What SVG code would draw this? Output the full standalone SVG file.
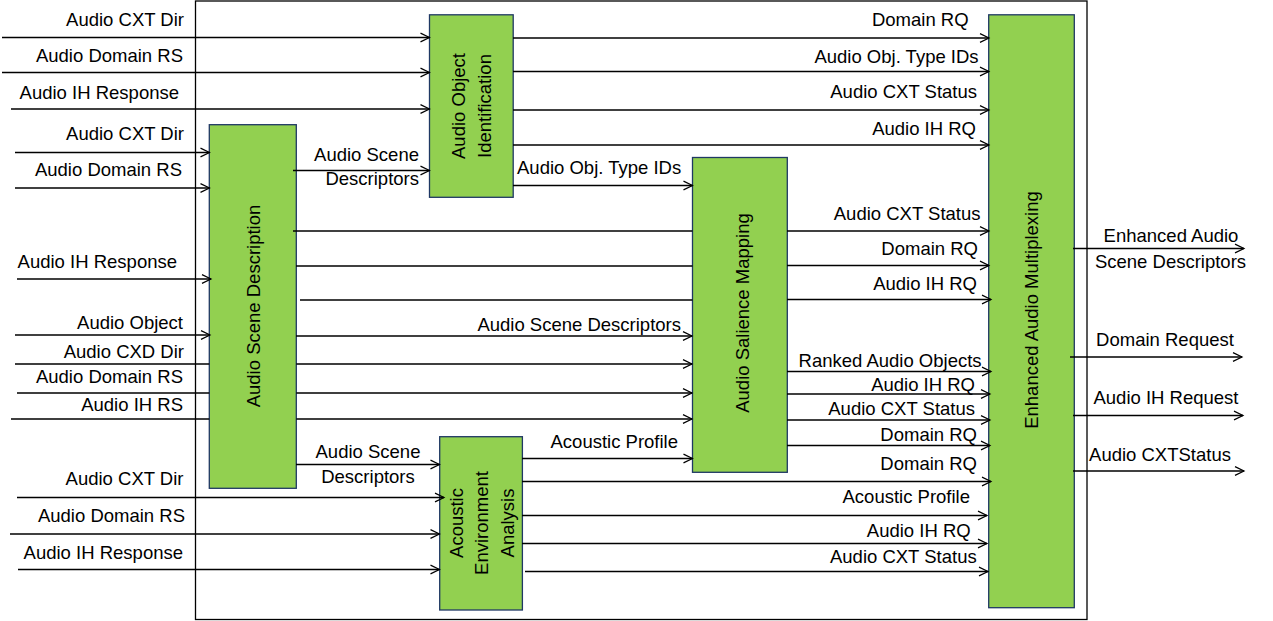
<svg xmlns="http://www.w3.org/2000/svg" width="1273" height="621" viewBox="0 0 1273 621">
<style>
  text { font-family: "Liberation Sans", Arial, sans-serif; font-size: 18.5px; fill: #000; }
  .e { text-anchor: end; }
  .m { text-anchor: middle; }
  .box { fill: #92D050; stroke: #1F3864; stroke-width: 1.3; }
  .frame { fill: none; stroke: #000; stroke-width: 1.3; }
  .c { fill: none; stroke: #000; stroke-width: 1.3; }
  .a { marker-end: url(#arr); }
</style>
<defs>
  <marker id="arr" markerUnits="userSpaceOnUse" markerWidth="12" markerHeight="12" refX="9.5" refY="5" orient="auto" overflow="visible">
    <path d="M0.5,0.6 L9.5,5 L0.5,9.4" fill="none" stroke="#000" stroke-width="1.2"/>
  </marker>
</defs>
<rect width="1273" height="621" fill="#fff"/>
<rect class="frame" x="195.5" y="1" width="891.5" height="618.5"/>

<g id="aoi">
  <rect class="box" x="429.5" y="14.8" width="83.7" height="182.5"/>
  <text class="m" transform="translate(465,106) rotate(-90)">Audio Object</text>
  <text class="m" transform="translate(491,106) rotate(-90)">Identification</text>
</g>
<g id="asd">
  <rect class="box" x="209.3" y="124.7" width="87" height="363.6"/>
  <text class="m" transform="translate(260,306) rotate(-90)">Audio Scene Description</text>
</g>
<g id="asm">
  <rect class="box" x="692.5" y="157.5" width="94.8" height="314.8"/>
  <text class="m" transform="translate(748.5,313) rotate(-90)">Audio Salience Mapping</text>
</g>
<g id="aea">
  <rect class="box" x="439.7" y="436.7" width="82.7" height="173.3"/>
  <text class="m" transform="translate(463,523) rotate(-90)">Acoustic</text>
  <text class="m" transform="translate(488,523) rotate(-90)">Environment</text>
  <text class="m" transform="translate(513.5,523) rotate(-90)">Analysis</text>
</g>
<g id="eam">
  <rect class="box" x="988.7" y="14.8" width="85.6" height="592.9"/>
  <text class="m" transform="translate(1038.3,310) rotate(-90)">Enhanced Audio Multiplexing</text>
</g>

<g id="connectors">
  <!-- inputs to AOI -->
  <path class="c a" d="M2,37.5 H429.5"/>
  <path class="c a" d="M2,72.5 H429.5"/>
  <path class="c a" d="M11,109 H429.5"/>
  <!-- inputs to ASD -->
  <path class="c a" d="M15,152.5 H209.5"/>
  <path class="c a" d="M15,188 H209.5"/>
  <path class="c a" d="M17,279 H211"/>
  <path class="c a" d="M15,335 H210"/>
  <!-- inputs crossing ASD to ASM -->
  <path class="c a" d="M15,364 H209.3 M296.3,364 H692"/>
  <path class="c a" d="M17,393 H209.3 M296.3,393 H692"/>
  <path class="c a" d="M11,419 H209.3 M296.3,419 H692"/>
  <!-- ASD outputs -->
  <path class="c a" d="M293,170.5 H429.5"/>
  <path class="c" d="M293,231 H692.5"/>
  <path class="c" d="M296,266 H692.5"/>
  <path class="c" d="M300,300 H692.5"/>
  <path class="c a" d="M296,336 H692"/>
  <path class="c a" d="M296,464.5 H439.5"/>
  <!-- inputs to AEA -->
  <path class="c a" d="M17,497.5 H444"/>
  <path class="c a" d="M10,534 H439.5"/>
  <path class="c a" d="M18,569.5 H439.5"/>
  <!-- AOI outputs -->
  <path class="c a" d="M513,38 H989"/>
  <path class="c a" d="M513,71.5 H989"/>
  <path class="c a" d="M513,110 H989"/>
  <path class="c a" d="M513,145 H989"/>
  <path class="c a" d="M513,185.5 H692.5"/>
  <!-- ASM outputs -->
  <path class="c a" d="M787,231 H989"/>
  <path class="c a" d="M787,265.5 H989"/>
  <path class="c a" d="M787,299.5 H991"/>
  <path class="c a" d="M787,371.5 H991"/>
  <path class="c a" d="M787,394 H990"/>
  <path class="c a" d="M787,420 H990"/>
  <path class="c a" d="M787,445.5 H990"/>
  <!-- AEA outputs -->
  <path class="c a" d="M522,458.5 H692.5"/>
  <path class="c a" d="M522,481.5 H991"/>
  <path class="c a" d="M522,515.5 H987"/>
  <path class="c a" d="M522,543.5 H987"/>
  <path class="c a" d="M525,571.5 H988"/>
  <!-- EAM outputs -->
  <path class="c a" d="M1073,248.5 H1244"/>
  <path class="c a" d="M1070,357 H1242"/>
  <path class="c a" d="M1073,415.5 H1243"/>
  <path class="c a" d="M1073,471 H1244"/>

  <!-- labels -->
  <text class="e" x="184" y="26">Audio CXT Dir</text>
  <text class="e" x="183" y="62">Audio Domain RS</text>
  <text class="e" x="179" y="99">Audio IH Response</text>
  <text class="e" x="184" y="140">Audio CXT Dir</text>
  <text class="e" x="182" y="175.5">Audio Domain RS</text>
  <text class="e" x="177" y="268">Audio IH Response</text>
  <text class="e" x="183" y="329">Audio Object</text>
  <text class="e" x="184" y="358">Audio CXD Dir</text>
  <text class="e" x="183" y="383">Audio Domain RS</text>
  <text class="e" x="183" y="410.5">Audio IH RS</text>
  <text class="e" x="183.5" y="485.3">Audio CXT Dir</text>
  <text class="e" x="185" y="522">Audio Domain RS</text>
  <text class="e" x="183" y="559.3">Audio IH Response</text>

  <text class="e" x="419" y="161">Audio Scene</text>
  <text class="e" x="419" y="185">Descriptors</text>
  <text class="m" x="368" y="457.7">Audio Scene</text>
  <text class="m" x="368" y="483.3">Descriptors</text>
  <text x="517" y="174">Audio Obj. Type IDs</text>
  <text class="e" x="681" y="330.7">Audio Scene Descriptors</text>
  <text class="e" x="678" y="447.7">Acoustic Profile</text>

  <text class="e" x="968.6" y="26">Domain RQ</text>
  <text class="e" x="978.6" y="62.7">Audio Obj. Type IDs</text>
  <text class="e" x="977" y="98">Audio CXT Status</text>
  <text class="e" x="976" y="135.3">Audio IH RQ</text>
  <text class="e" x="980.5" y="220">Audio CXT Status</text>
  <text class="e" x="978" y="255">Domain RQ</text>
  <text class="e" x="977" y="290">Audio IH RQ</text>
  <text class="e" x="981.6" y="366.7">Ranked Audio Objects</text>
  <text class="e" x="975" y="391">Audio IH RQ</text>
  <text class="e" x="975" y="415">Audio CXT Status</text>
  <text class="e" x="977" y="440.7">Domain RQ</text>
  <text class="e" x="977" y="470">Domain RQ</text>
  <text class="e" x="970" y="502.7">Acoustic Profile</text>
  <text class="e" x="970.7" y="536.7">Audio IH RQ</text>
  <text class="e" x="976.7" y="563.3">Audio CXT Status</text>

  <text class="m" x="1171" y="242.4">Enhanced Audio</text>
  <text class="m" x="1170.5" y="267.7">Scene Descriptors</text>
  <text class="m" x="1165" y="345.7">Domain Request</text>
  <text class="m" x="1166" y="404">Audio IH Request</text>
  <text class="m" x="1160" y="460.6">Audio CXTStatus</text>
</g>
</svg>
